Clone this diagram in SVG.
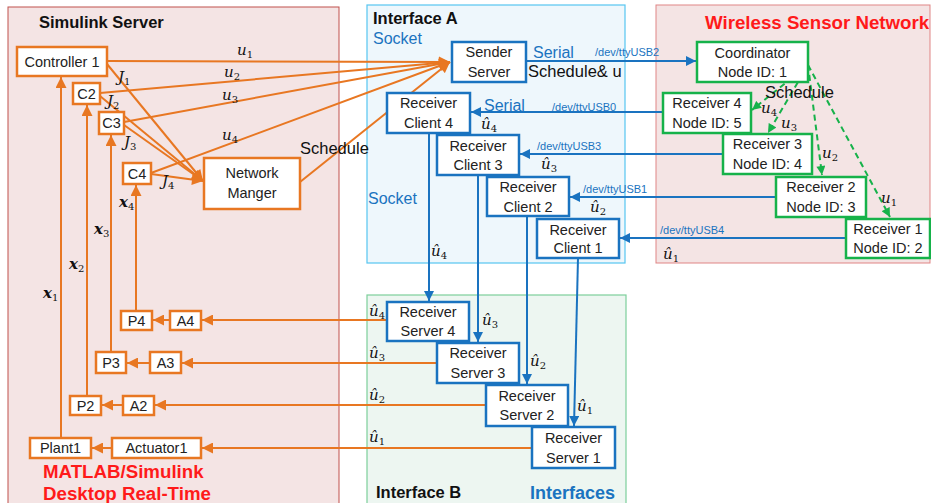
<svg xmlns="http://www.w3.org/2000/svg" width="931" height="503" viewBox="0 0 931 503">
<style>
.t{font-family:"Liberation Sans",Arial,sans-serif;font-size:14.5px;fill:#222;text-anchor:middle}
.s{font-family:"Liberation Sans",Arial,sans-serif;font-size:11px;fill:#1a73c0}
.ser{font-family:"Liberation Sans",Arial,sans-serif;font-size:16px;fill:#1a73c0}
.bk{font-family:"Liberation Sans",Arial,sans-serif;font-size:16.5px;fill:#111}
.h{font-family:"Liberation Sans",Arial,sans-serif;font-size:16.5px;font-weight:bold;fill:#111}
.red{font-family:"Liberation Sans",Arial,sans-serif;font-size:18.7px;font-weight:bold;fill:#ff1a1a}
.m{font-family:"DejaVu Serif","Liberation Serif",serif;font-style:italic;font-size:15px;fill:#111}
.mb{font-family:"DejaVu Serif","Liberation Serif",serif;font-style:italic;font-weight:bold;font-size:15px;fill:#111}
.sub{font-size:10px;font-style:normal;font-weight:normal}
.ob{fill:#fff;stroke:#e87722;stroke-width:2.5}
.bb{fill:#fff;stroke:#1a73c0;stroke-width:2.5}
.gb{fill:#fff;stroke:#16b24a;stroke-width:2.5}
.ol{stroke:#e87722;stroke-width:2;fill:none}
.bl{stroke:#1a73c0;stroke-width:2;fill:none}
.gl{stroke:#16b24a;stroke-width:2;fill:none;stroke-dasharray:6 4}
</style>
<defs>
<marker id="ao" viewBox="0 0 10 10" refX="10" refY="5" markerWidth="12" markerHeight="11" markerUnits="userSpaceOnUse" orient="auto"><path d="M0,0L10,5L0,10z" fill="#e87722"/></marker>
<marker id="ab" viewBox="0 0 10 10" refX="10" refY="5" markerWidth="11" markerHeight="10" markerUnits="userSpaceOnUse" orient="auto"><path d="M0,0L10,5L0,10z" fill="#1a73c0"/></marker>
<marker id="ag" viewBox="0 0 10 10" refX="10" refY="5" markerWidth="10" markerHeight="9" markerUnits="userSpaceOnUse" orient="auto"><path d="M0,0L10,5L0,10z" fill="#16b24a"/></marker>
</defs>
<rect width="931" height="503" fill="#fff"/>
<g id="panels">
<rect x="8" y="7" width="331" height="500" fill="#f4e4e4" stroke="#c0504d" stroke-width="1"/>
<rect x="367" y="5" width="258" height="258" fill="#eef7fc" stroke="#56c5f0" stroke-width="1.2"/>
<rect x="367" y="295" width="259" height="212" fill="#edf6f1" stroke="#7ccf9b" stroke-width="1.2"/>
<rect x="656" y="5" width="274" height="258" fill="#f4e4e4" stroke="#e08585" stroke-width="1"/>
</g>
<g id="panel-labels">
<text class="h" x="39" y="28">Simulink Server</text>
<text class="red" x="43" y="478">MATLAB/Simulink</text>
<text class="red" x="43" y="500">Desktop Real-Time</text>
<text class="h" x="373" y="24">Interface A</text>
<text class="ser" x="373" y="44">Socket</text>
<text class="ser" x="368" y="204">Socket</text>
<text class="h" x="376" y="498">Interface B</text>
<text class="h" x="530" y="499" style="fill:#1a73c0;font-size:18px">Interfaces</text>
<text class="red" x="705" y="29">Wireless Sensor Network</text>
</g>
<g id="connectors">
<line class="ol" x1="107" y1="61" x2="450" y2="62" marker-end="url(#ao)"/>
<line class="ol" x1="100" y1="93" x2="450" y2="62" marker-end="url(#ao)"/>
<line class="ol" x1="124" y1="122" x2="450" y2="62" marker-end="url(#ao)"/>
<line class="ol" x1="151" y1="173" x2="450" y2="62" marker-end="url(#ao)"/>
<line class="ol" x1="300" y1="182" x2="450" y2="62" marker-end="url(#ao)"/>
<line class="ol" x1="107" y1="64" x2="203" y2="181" marker-end="url(#ao)"/>
<line class="ol" x1="100" y1="96" x2="203" y2="181" marker-end="url(#ao)"/>
<line class="ol" x1="124" y1="125" x2="203" y2="181" marker-end="url(#ao)"/>
<line class="ol" x1="151" y1="174" x2="203" y2="181" marker-end="url(#ao)"/>
<line class="ol" x1="61" y1="438" x2="61" y2="77" marker-end="url(#ao)"/>
<line class="ol" x1="87" y1="396" x2="87" y2="105" marker-end="url(#ao)"/>
<line class="ol" x1="111" y1="352" x2="111" y2="135" marker-end="url(#ao)"/>
<line class="ol" x1="136" y1="311" x2="136" y2="185" marker-end="url(#ao)"/>
<line class="ol" x1="387" y1="320" x2="202" y2="320" marker-end="url(#ao)"/>
<line class="ol" x1="437" y1="363" x2="182" y2="363" marker-end="url(#ao)"/>
<line class="ol" x1="486" y1="405" x2="155" y2="405" marker-end="url(#ao)"/>
<line class="ol" x1="532" y1="448" x2="202" y2="448" marker-end="url(#ao)"/>
<line class="ol" x1="170" y1="320" x2="153" y2="320" marker-end="url(#ao)"/>
<line class="ol" x1="150" y1="363" x2="127" y2="363" marker-end="url(#ao)"/>
<line class="ol" x1="123" y1="405" x2="102" y2="405" marker-end="url(#ao)"/>
<line class="ol" x1="112" y1="448" x2="92" y2="448" marker-end="url(#ao)"/>
<line class="bl" x1="526" y1="61" x2="696" y2="61" marker-end="url(#ab)"/>
<line class="bl" x1="663" y1="112" x2="471" y2="112" marker-end="url(#ab)"/>
<line class="bl" x1="723" y1="154" x2="520" y2="154" marker-end="url(#ab)"/>
<line class="bl" x1="776" y1="197" x2="570" y2="197" marker-end="url(#ab)"/>
<line class="bl" x1="846" y1="238" x2="620" y2="238" marker-end="url(#ab)"/>
<line class="bl" x1="429" y1="133" x2="429" y2="301" marker-end="url(#ab)"/>
<line class="bl" x1="478" y1="175" x2="478" y2="342" marker-end="url(#ab)"/>
<line class="bl" x1="527" y1="216" x2="527" y2="384" marker-end="url(#ab)"/>
<line class="bl" x1="578" y1="258" x2="574" y2="426" marker-end="url(#ab)"/>
<line class="gl" x1="808" y1="65" x2="752" y2="110" marker-end="url(#ag)"/>
<line class="gl" x1="808" y1="65" x2="768" y2="133" marker-end="url(#ag)"/>
<line class="gl" x1="808" y1="65" x2="822" y2="175" marker-end="url(#ag)"/>
<line class="gl" x1="808" y1="65" x2="890" y2="217" marker-end="url(#ag)"/>
</g>
<g id="ctrl1"><rect class="ob" x="17" y="47" width="90" height="29"/><text class="t" x="62" y="67">Controller 1</text></g>
<g id="c2"><rect class="ob" x="73" y="83" width="27" height="21"/><text class="t" x="86.5" y="99">C2</text></g>
<g id="c3"><rect class="ob" x="99" y="112" width="25" height="22"/><text class="t" x="111.5" y="128">C3</text></g>
<g id="c4"><rect class="ob" x="123" y="163" width="28" height="21"/><text class="t" x="137" y="179">C4</text></g>
<g id="nm"><rect class="ob" x="204" y="158" width="96" height="51"/><text class="t" x="252" y="178">Network</text><text class="t" x="252" y="198">Manger</text></g>
<g id="p4"><rect class="ob" x="121" y="311" width="31" height="19"/><text class="t" x="136.5" y="326">P4</text></g>
<g id="a4"><rect class="ob" x="170" y="311" width="31" height="19"/><text class="t" x="185.5" y="326">A4</text></g>
<g id="p3"><rect class="ob" x="96" y="352" width="30" height="21"/><text class="t" x="111" y="368">P3</text></g>
<g id="a3"><rect class="ob" x="150" y="352" width="31" height="21"/><text class="t" x="165.5" y="368">A3</text></g>
<g id="p2"><rect class="ob" x="70" y="396" width="31" height="19"/><text class="t" x="85.5" y="411">P2</text></g>
<g id="a2"><rect class="ob" x="123" y="396" width="31" height="19"/><text class="t" x="138.5" y="411">A2</text></g>
<g id="plant1"><rect class="ob" x="30" y="438" width="61" height="20"/><text class="t" x="60.5" y="453">Plant1</text></g>
<g id="act1"><rect class="ob" x="112" y="438" width="89" height="20"/><text class="t" x="156.5" y="453">Actuator1</text></g>
<g id="sender"><rect class="bb" x="452" y="42" width="74" height="40"/><text class="t" x="489" y="57">Sender</text><text class="t" x="489" y="77">Server</text></g>
<g id="rc4"><rect class="bb" x="387" y="93" width="83" height="40"/><text class="t" x="428.5" y="108">Receiver</text><text class="t" x="428.5" y="128">Client 4</text></g>
<g id="rc3"><rect class="bb" x="437" y="135" width="82" height="40"/><text class="t" x="478" y="151">Receiver</text><text class="t" x="478" y="170">Client 3</text></g>
<g id="rc2"><rect class="bb" x="487" y="177" width="82" height="39"/><text class="t" x="528" y="192">Receiver</text><text class="t" x="528" y="212">Client 2</text></g>
<g id="rc1"><rect class="bb" x="537" y="219" width="82" height="39"/><text class="t" x="578" y="235">Receiver</text><text class="t" x="578" y="253">Client 1</text></g>
<g id="rs4"><rect class="bb" x="387" y="302" width="82" height="39"/><text class="t" x="428" y="317">Receiver</text><text class="t" x="428" y="336">Server 4</text></g>
<g id="rs3"><rect class="bb" x="437" y="343" width="82" height="40"/><text class="t" x="478" y="358">Receiver</text><text class="t" x="478" y="378">Server 3</text></g>
<g id="rs2"><rect class="bb" x="486" y="385" width="82" height="41"/><text class="t" x="527" y="401">Receiver</text><text class="t" x="527" y="420">Server 2</text></g>
<g id="rs1"><rect class="bb" x="532" y="427" width="83" height="41"/><text class="t" x="573.5" y="443">Receiver</text><text class="t" x="573.5" y="463">Server 1</text></g>
<g id="coord"><rect class="gb" x="697" y="42" width="111" height="40"/><text class="t" x="752.5" y="58">Coordinator</text><text class="t" x="752.5" y="77">Node ID: 1</text></g>
<g id="r4"><rect class="gb" x="663" y="93" width="88" height="40"/><text class="t" x="707" y="108">Receiver 4</text><text class="t" x="707" y="128">Node ID: 5</text></g>
<g id="r3"><rect class="gb" x="723" y="134" width="89" height="40"/><text class="t" x="767.5" y="149">Receiver 3</text><text class="t" x="767.5" y="169">Node ID: 4</text></g>
<g id="r2"><rect class="gb" x="776" y="177" width="90" height="40"/><text class="t" x="821" y="192">Receiver 2</text><text class="t" x="821" y="212">Node ID: 3</text></g>
<g id="r1"><rect class="gb" x="846" y="219" width="84" height="39"/><text class="t" x="888" y="234">Receiver 1</text><text class="t" x="888" y="253">Node ID: 2</text></g>
<g id="labels">
<text class="m" x="237" y="55">u<tspan class="sub" dy="3">1</tspan></text>
<text class="m" x="224" y="77">u<tspan class="sub" dy="3">2</tspan></text>
<text class="m" x="222" y="100">u<tspan class="sub" dy="3">3</tspan></text>
<text class="m" x="222" y="140">u<tspan class="sub" dy="3">4</tspan></text>
<text class="m" x="118" y="82">J<tspan class="sub" dy="3">1</tspan></text>
<text class="m" x="107" y="106">J<tspan class="sub" dy="3">2</tspan></text>
<text class="m" x="124" y="147">J<tspan class="sub" dy="3">3</tspan></text>
<text class="m" x="162" y="186">J<tspan class="sub" dy="3">4</tspan></text>
<text class="mb" x="43" y="298">x<tspan class="sub" dy="3">1</tspan></text>
<text class="mb" x="69" y="269">x<tspan class="sub" dy="3">2</tspan></text>
<text class="mb" x="94" y="234">x<tspan class="sub" dy="3">3</tspan></text>
<text class="mb" x="119" y="207">x<tspan class="sub" dy="3">4</tspan></text>
<text class="bk" x="300" y="154">Schedule</text>
<text class="ser" x="533" y="58">Serial</text>
<text class="s" x="595" y="56">/dev/ttyUSB2</text>
<text class="bk" x="528" y="77">Schedule&amp; u</text>
<text class="ser" x="484" y="111">Serial</text>
<text class="s" x="552" y="111">/dev/ttyUSB0</text>
<text class="s" x="537" y="150">/dev/ttyUSB3</text>
<text class="s" x="583" y="193">/dev/ttyUSB1</text>
<text class="s" x="660" y="234">/dev/ttyUSB4</text>
<text class="m" x="481" y="129">û<tspan class="sub" dy="3">4</tspan></text>
<text class="m" x="541" y="169">û<tspan class="sub" dy="3">3</tspan></text>
<text class="m" x="590" y="212">û<tspan class="sub" dy="3">2</tspan></text>
<text class="m" x="663" y="259">û<tspan class="sub" dy="3">1</tspan></text>
<text class="m" x="431" y="256">û<tspan class="sub" dy="3">4</tspan></text>
<text class="m" x="482" y="325">û<tspan class="sub" dy="3">3</tspan></text>
<text class="m" x="530" y="366">û<tspan class="sub" dy="3">2</tspan></text>
<text class="m" x="577" y="411">û<tspan class="sub" dy="3">1</tspan></text>
<text class="m" x="369" y="316">û<tspan class="sub" dy="3">4</tspan></text>
<text class="m" x="369" y="358">û<tspan class="sub" dy="3">3</tspan></text>
<text class="m" x="369" y="400">û<tspan class="sub" dy="3">2</tspan></text>
<text class="m" x="369" y="442">û<tspan class="sub" dy="3">1</tspan></text>
<text class="bk" x="765" y="98">Schedule</text>
<text class="m" x="761" y="113">u<tspan class="sub" dy="3">4</tspan></text>
<text class="m" x="781" y="128">u<tspan class="sub" dy="3">3</tspan></text>
<text class="m" x="822" y="158">u<tspan class="sub" dy="3">2</tspan></text>
<text class="m" x="881" y="203">u<tspan class="sub" dy="3">1</tspan></text>
</g>
</svg>
